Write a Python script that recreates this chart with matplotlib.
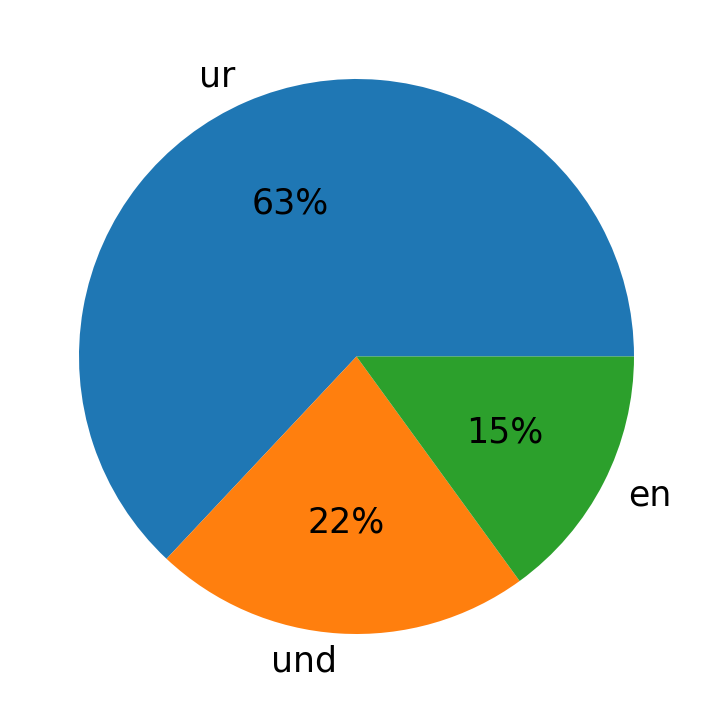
import matplotlib
matplotlib.use("Agg")
import matplotlib.pyplot as plt

# Data
labels = ['ur', 'und', 'en']
shares = [63, 22, 15]

fig = plt.figure(figsize=(7.12, 7.13), dpi=100)
ax = fig.add_axes([79/712, 79/713, 555/712, 555/713])

ax.pie(shares, labels=labels, autopct='%1.0f%%',
       textprops={'fontsize': 25})
ax.set_xlim(-1, 1)
ax.set_ylim(-1, 1)
ax.set_aspect('equal')

fig.savefig('out.png', dpi=100)
